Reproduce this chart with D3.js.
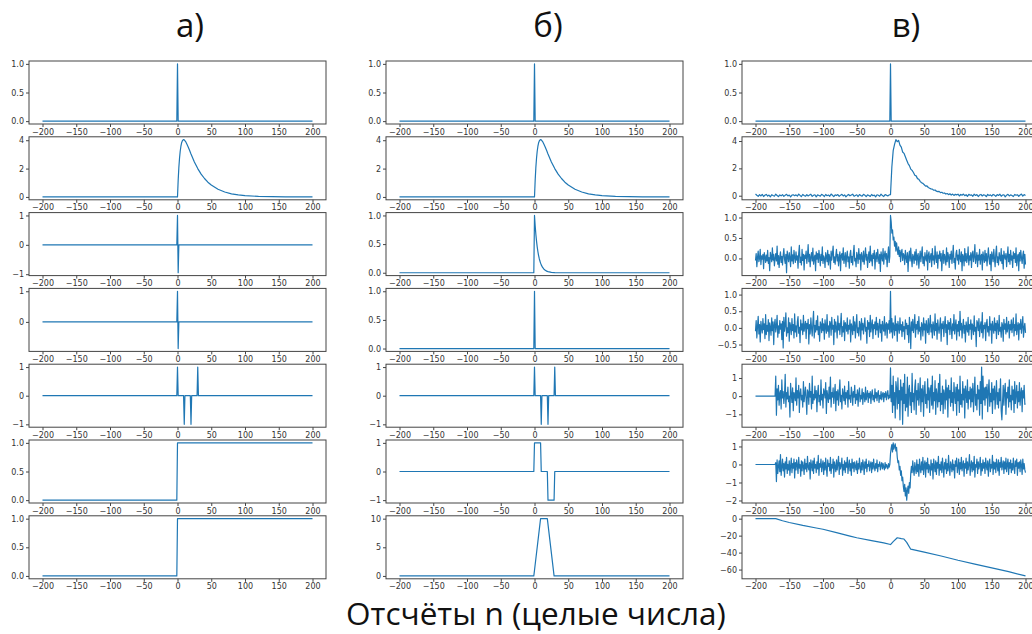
<!DOCTYPE html>
<html>
<head>
<meta charset="utf-8">
<script src="https://cdn.jsdelivr.net/npm/d3@7"></script>
<style>
  body { margin: 0; background: #fff; }
  .tick text { font-family: "DejaVu Sans", sans-serif; font-size: 8px; fill: #333; }
  .tick line { stroke: #444; }
  .ttl { font-family: "Open Sans", sans-serif; fill: #111; }
</style>
</head>
<body>
<div id="chart"></div>
<script>
// ---- data ----

// sample axis ticks
var xTicks = [-200, -150, -100, -50, 0, 50, 100, 150, 200];

// column titles and x label
var colTitles = ["а)", "б)", "в)"];
var xLabel = "Отсчёты n (целые числа)";

// y tick values for each kind of panel
var ticksUnit = [0, 0.5, 1];
var ticksPulse = [0, 2, 4];
var ticksPm1 = [-1, 0, 1];
var ticksPm1b = [0, 1];
var ticksTrap = [0, 5, 10];
var ticksN3 = [0, 0.5, 1];
var ticksN4 = [-0.5, 0, 0.5, 1];
var ticksN6 = [-2, -1, 0, 1];
var ticksCum = [-60, -40, -20, 0];

// [n, value] points of the clean signals
var impulse = [[-200, 0], [-1, 0], [0, 1], [1, 0], [200, 0]];
var pulse = [[-200, 0], [0, 0], [1, 1.18], [2, 2.07], [3, 2.73], [4, 3.22], [5, 3.56], [6, 3.80],
  [7, 3.94], [8, 4.02], [9, 4.04], [10, 4.03], [12, 3.91], [14, 3.72], [16, 3.50], [18, 3.27],
  [20, 3.03], [25, 2.47], [30, 2.00], [35, 1.61], [40, 1.30], [45, 1.04], [50, 0.84], [60, 0.54],
  [70, 0.35], [80, 0.22], [90, 0.14], [100, 0.09], [120, 0.04], [140, 0.02], [160, 0.01], [200, 0]];
var diffA = [[-200, 0], [-1, 0], [0, 1], [1, -0.95], [2, 0], [200, 0]];
var diffB = [[-200, 0], [-1, 0], [0, 1], [1, -0.87], [2, 0], [200, 0]];
var fourSpikes = [[-200, 0], [-1, 0], [0, 1], [1, 0], [9, 0], [10, -1], [11, 0], [19, 0], [20, -1],
  [21, 0], [29, 0], [30, 1], [31, 0], [200, 0]];
var step = [[-200, 0], [-1, 0], [0, 1], [200, 1]];
var decay = [[-200, 0], [-1, 0], [0, 1], [1, 0.82], [2, 0.672], [3, 0.551], [4, 0.452], [5, 0.371],
  [6, 0.304], [7, 0.249], [8, 0.204], [9, 0.168], [10, 0.137], [12, 0.092], [14, 0.062],
  [16, 0.042], [18, 0.028], [20, 0.019], [25, 0.007], [30, 0.003], [40, 0], [200, 0]];
var rectPair = [[-200, 0], [-1, 0], [0, 1], [9, 1], [10, 0], [19, 0], [20, -1], [29, -1], [30, 0], [200, 0]];
var trapezoid = [[-200, 0], [-1, 0], [0, 1], [9, 10], [19, 10], [29, 0], [200, 0]];
var cumNoise = [[-200, 0], [-170, 0], [-160, -2.5], [-150, -4.5], [-130, -8], [-110, -11],
  [-100, -12.5], [-80, -16.5], [-60, -20.5], [-50, -22.5], [-30, -25.5], [-10, -28.5], [0, -30.5],
  [4, -27], [10, -22.5], [16, -23.5], [20, -24], [24, -28], [30, -36], [50, -39.5], [75, -44],
  [100, -49], [125, -53.5], [150, -58], [175, -62.5], [200, -67.5]];

// noisy pulse, every second sample from n = -200
var noisyPulse = [
  0.12, 0.03, -0.05, 0.08, -0.02, 0.1, -0.06, 0.04, 0.09, -0.03,
  0.05, -0.08, 0.07, 0.01, -0.04, 0.11, 0.02, -0.07, 0.06, -0.01,
  0.08, -0.05, 0.03, 0.1, -0.02, 0.05, -0.09, 0.04, 0.07, 0.0,
  0.06, -0.03, 0.12, 0.02, -0.06, 0.09, 0.01, -0.04, 0.08, -0.02,
  0.05, 0.11, -0.05, 0.03, 0.07, -0.08, 0.06, 0.02, -0.03, 0.1,
  0.04, -0.06, 0.09, 0.0, 0.05, -0.04, 0.12, 0.03, -0.07, 0.06,
  0.01, 0.08, -0.05, 0.04, 0.1, -0.02, 0.06, -0.08, 0.03, 0.09,
  -0.01, 0.05, 0.11, -0.04, 0.02, 0.07, -0.06, 0.08, 0.01, -0.03,
  0.1, 0.04, -0.07, 0.06, 0.02, -0.05, 0.09, 0.0, 0.05, -0.08,
  0.07, 0.03, -0.04, 0.11, 0.01, -0.06, 0.08, 0.04, -0.02, 0.06,
  0.08, 2.1, 3.3, 3.75, 4.1, 3.95, 4.05, 3.7, 3.55, 3.2,
  3.1, 2.85, 2.6, 2.35, 2.2, 1.95, 1.85, 1.7, 1.5, 1.45,
  1.25, 1.2, 1.05, 0.95, 0.9, 0.8, 0.7, 0.72, 0.6, 0.55,
  0.5, 0.48, 0.4, 0.42, 0.33, 0.3, 0.32, 0.22, 0.25, 0.18,
  0.2, 0.12, 0.16, 0.08, 0.14, 0.05, 0.12, 0.02, 0.1, 0.06,
  0.11, -0.02, 0.09, 0.04, 0.12, 0.0, 0.07, -0.05, 0.1, 0.03,
  0.06, -0.04, 0.11, 0.02, 0.08, -0.06, 0.05, 0.09, -0.02, 0.07,
  0.03, -0.07, 0.1, 0.01, 0.06, -0.03, 0.09, 0.04, -0.05, 0.08,
  0.02, 0.11, -0.04, 0.05, 0.07, -0.08, 0.04, 0.1, -0.02, 0.06,
  0.01, -0.06, 0.09, 0.03, 0.07, -0.04, 0.05, 0.12, -0.03, 0.08,
  0.02];

// noisy decay, every sample from n = -200
var noisyDecay = [
  -0.05, 0.12, -0.2, 0.03, 0.18, -0.08, 0.0, 0.22, -0.15, 0.06, -0.02, 0.1, -0.25, 0.14, 0.04, -0.1, 0.08, -0.06, 0.2, -0.12,
  0.02, -0.3, 0.15, 0.05, -0.08, 0.26, -0.04, 0.1, -0.18, 0.0, 0.12, -0.06, 0.3, -0.14, 0.07, -0.22, 0.03, 0.16, -0.1, 0.05,
  -0.16, 0.08, 0.24, -0.02, -0.12, 0.1, -0.35, 0.18, 0.04, -0.08, 0.14, 0.0, -0.2, 0.28, -0.06, 0.09, -0.13, 0.2, 0.02, -0.1,
  0.16, -0.04, 0.06, -0.24, 0.12, 0.32, -0.1, 0.03, -0.16, 0.22, -0.05, 0.1, -0.28, 0.08, 0.0, 0.18, -0.12, 0.05, 0.34, -0.08,
  0.1, -0.2, 0.04, 0.14, -0.06, 0.25, -0.14, 0.02, 0.08, -0.3, 0.16, -0.02, 0.12, -0.1, 0.2, 0.04, -0.18, 0.1, -0.05, 0.28,
  -0.12, 0.06, 0.0, -0.22, 0.14, 0.05, -0.08, 0.2, -0.16, 0.1, 0.02, -0.26, 0.18, -0.04, 0.12, 0.3, -0.1, 0.04, -0.14, 0.08,
  0.22, -0.06, 0.1, -0.18, 0.02, 0.16, -0.3, 0.08, 0.12, -0.04, 0.26, -0.12, 0.0, 0.14, -0.2, 0.06, 0.18, -0.08, 0.04, -0.24,
  0.1, 0.2, -0.1, 0.05, -0.16, 0.12, 0.32, -0.06, 0.0, -0.2, 0.15, 0.06, -0.12, 0.24, -0.02, 0.1, -0.28, 0.14, 0.03, -0.08,
  0.18, -0.14, 0.06, 0.26, -0.04, 0.1, -0.22, 0.02, 0.16, -0.1, 0.3, -0.06, 0.08, -0.18, 0.12, 0.0, 0.2, -0.26, 0.05, 0.14,
  -0.08, 0.22, 0.02, -0.12, 0.1, -0.32, 0.16, 0.04, -0.06, 0.24, -0.14, 0.08, 0.18, -0.02, 0.12, -0.2, 0.06, 0.28, -0.1, 0.05,
  1.05, 0.9, 0.62, 0.7, 0.45, 0.52, 0.3, 0.42, 0.18, 0.38, 0.22, 0.1, 0.28, 0.05, 0.2, -0.08, 0.15, 0.22, -0.05, 0.12,
  0.08, -0.15, 0.2, 0.02, -0.1, 0.14, -0.32, 0.06, 0.18, -0.06, 0.25, 0.0, -0.2, 0.1, 0.04, -0.12, 0.16, -0.04, 0.22, -0.16,
  0.06, 0.12, -0.24, 0.02, 0.18, -0.08, 0.1, 0.28, -0.12, 0.04, -0.18, 0.14, 0.0, -0.06, 0.2, -0.28, 0.08, 0.16, -0.1, 0.03,
  0.12, -0.2, 0.24, -0.04, 0.06, -0.14, 0.3, 0.02, -0.1, 0.16, -0.24, 0.08, 0.0, 0.18, -0.06, 0.12, -0.3, 0.04, 0.2, -0.12,
  0.1, 0.02, -0.16, 0.26, -0.08, 0.14, 0.04, -0.22, 0.1, -0.02, 0.18, -0.12, 0.06, 0.32, -0.1, 0.0, -0.26, 0.12, 0.2, -0.04,
  0.08, -0.14, 0.22, 0.0, -0.08, 0.16, -0.3, 0.1, 0.04, -0.18, 0.24, -0.06, 0.12, -0.1, 0.02, 0.28, -0.16, 0.06, -0.04, 0.14,
  -0.22, 0.1, 0.18, -0.08, 0.04, 0.34, -0.12, 0.0, 0.14, -0.2, 0.08, -0.04, 0.22, -0.14, 0.06, 0.1, -0.28, 0.16, 0.02, -0.1,
  0.2, -0.06, 0.12, -0.18, 0.04, 0.26, -0.02, -0.14, 0.1, -0.3, 0.16, 0.06, -0.08, 0.22, 0.0, -0.2, 0.12, 0.3, -0.1, 0.04,
  -0.16, 0.14, 0.02, -0.06, 0.24, -0.12, 0.08, -0.26, 0.18, 0.04, -0.02, 0.12, -0.2, 0.06, 0.28, -0.08, 0.1, -0.14, 0.2, -0.04,
  0.06, -0.22, 0.16, 0.0, 0.12, -0.1, 0.26, -0.18, 0.04, 0.1, -0.3, 0.14, -0.06, 0.2, 0.02, -0.12, 0.08, 0.18, -0.24, 0.1,
  -0.15];

// noisy impulse, every sample from n = -200
var noisyImpulse = [
  -0.1, 0.22, -0.3, 0.05, 0.35, -0.18, 0.1, -0.42, 0.2, 0.0, -0.15, 0.28, -0.05, 0.12, -0.32, 0.4, -0.2, 0.08, -0.1, 0.25,
  -0.38, 0.15, 0.02, -0.22, 0.3, -0.08, 0.18, -0.5, 0.1, 0.26, -0.12, 0.04, 0.38, -0.28, 0.06, -0.16, 0.22, -0.04, 0.12, -0.35,
  0.2, -0.6, 0.32, -0.1, 0.08, 0.45, -0.25, 0.0, -0.14, 0.3, -0.4, 0.16, 0.05, -0.2, 0.28, -0.08, 0.1, -0.3, 0.42, -0.12,
  0.06, -0.26, 0.18, 0.34, -0.16, 0.02, -0.44, 0.24, -0.06, 0.12, -0.2, 0.38, -0.1, 0.04, 0.2, -0.32, 0.14, -0.02, 0.26, -0.48,
  0.1, -0.18, 0.3, 0.0, -0.24, 0.16, 0.5, -0.3, 0.08, -0.12, 0.22, -0.06, 0.36, -0.2, 0.04, -0.4, 0.18, 0.1, -0.14, 0.28,
  -0.08, 0.12, -0.34, 0.24, 0.02, -0.16, 0.4, -0.1, 0.06, -0.28, 0.2, 0.14, -0.22, 0.32, -0.04, 0.08, -0.5, 0.26, -0.12, 0.18,
  0.0, -0.3, 0.36, -0.06, 0.14, -0.2, 0.1, 0.44, -0.26, 0.04, -0.12, 0.22, -0.38, 0.16, 0.06, -0.1, 0.3, -0.18, 0.08, -0.04,
  0.24, -0.42, 0.12, 0.02, -0.2, 0.34, -0.08, 0.18, -0.3, 0.06, 0.4, -0.14, 0.0, -0.24, 0.2, 0.1, -0.36, 0.28, -0.06, 0.14,
  -0.18, 0.08, 0.3, -0.1, 0.02, -0.46, 0.22, -0.04, 0.16, -0.26, 0.38, -0.12, 0.06, 0.24, -0.32, 0.1, -0.02, 0.18, -0.2, 0.32,
  -0.06, 0.14, -0.28, 0.04, 0.26, -0.14, 0.1, -0.4, 0.2, 0.0, -0.1, 0.34, -0.22, 0.08, 0.16, -0.3, 0.12, -0.04, 0.22, -0.16,
  1.1, -0.12, 0.28, -0.3, 0.15, 0.05, -0.22, 0.36, -0.08, 0.12, -0.4, 0.2, 0.02, -0.16, 0.3, -0.06, 0.1, -0.26, 0.18, -0.1,
  0.04, -0.34, 0.24, -0.02, 0.14, -0.2, 0.08, -0.44, 0.32, 0.0, -0.62, 0.18, -0.08, 0.26, -0.14, 0.06, 0.4, -0.28, 0.1, -0.04,
  0.2, -0.18, 0.34, -0.1, 0.02, -0.36, 0.16, 0.08, -0.24, 0.3, -0.06, 0.12, -0.46, 0.22, 0.0, -0.14, 0.28, -0.2, 0.06, 0.38,
  -0.12, 0.1, -0.3, 0.18, 0.04, -0.22, 0.42, -0.08, 0.14, -0.34, 0.24, 0.0, -0.16, 0.08, 0.3, -0.4, 0.12, -0.02, 0.2, -0.26,
  0.06, 0.34, -0.14, 0.1, -0.5, 0.22, -0.04, 0.16, -0.2, 0.28, 0.02, -0.32, 0.12, -0.08, 0.4, -0.18, 0.06, 0.24, -0.36, 0.1,
  -0.1, 0.2, -0.24, 0.5, -0.06, 0.14, -0.3, 0.04, 0.26, -0.16, 0.08, -0.42, 0.18, 0.0, -0.12, 0.32, -0.22, 0.1, -0.04, 0.24,
  -0.34, 0.12, 0.06, -0.2, 0.36, -0.1, 0.02, -0.56, 0.22, 0.14, -0.08, 0.28, -0.26, 0.04, 0.18, -0.14, 0.46, -0.3, 0.08, -0.02,
  0.16, -0.38, 0.1, 0.26, -0.12, 0.04, -0.24, 0.34, -0.06, 0.12, -0.46, 0.2, 0.0, -0.16, 0.3, -0.08, 0.14, -0.32, 0.22, 0.06,
  -0.2, 0.38, -0.1, 0.02, -0.28, 0.16, 0.08, -0.4, 0.26, -0.04, 0.12, -0.18, 0.32, -0.12, 0.04, 0.2, -0.3, 0.1, -0.06, 0.24,
  -0.14, 0.06, 0.3, -0.24, 0.1, -0.08, 0.42, -0.2, 0.02, 0.16, -0.36, 0.12, -0.04, 0.26, -0.16, 0.08, 0.34, -0.28, 0.0, 0.14,
  -0.15];

// these two: every sample from n = -170, flat zero before
var noisySpikes = [
  1.1, -1.05, 0.4, -0.2, 0.6, -0.5, 0.15, 0.3, -0.7, 0.9, -0.1, 0.25, -0.4, 0.05, 1.2, -0.6, 0.2, -0.15, 0.5, -0.3,
  0.0, -1.15, 0.7, 0.1, -0.35, 0.45, -0.8, 0.2, 0.05, -0.25, 1.0, -0.5, 0.3, -0.1, 0.6, -0.9, 0.15, 0.4, -0.2, 0.05,
  -0.6, 0.8, -0.3, 0.1, 0.5, -0.15, -1.0, 0.35, 0.2, -0.45, 0.7, -0.05, 0.25, -0.7, 1.1, -0.4, 0.1, -0.2, 0.55, -0.1,
  0.3, -0.85, 0.15, 0.6, -0.3, 0.05, -0.5, 0.9, -0.2, 0.1, -0.65, 0.4, 0.2, -0.1, 0.75, -0.95, 0.3, 0.0, -0.35, 0.5,
  -0.15, 1.05, -0.6, 0.2, -0.05, 0.45, -0.4, 0.1, 0.65, -0.8, 0.25, -0.2, 0.35, -0.5, 0.15, 0.9, -0.3, 0.05, -0.7, 0.4,
  0.1, -0.25, 0.55, -0.45, 0.2, -0.1, 0.3, -0.6, 0.8, -0.15, 0.05, -0.35, 0.5, 0.15, -0.5, 0.25, -0.05, 0.6, -0.4, 0.1,
  -0.2, 0.35, -0.55, 0.15, 0.45, -0.3, 0.05, -0.15, 0.4, -0.45, 0.2, 0.1, -0.3, 0.5, -0.2, 0.05, 0.3, -0.35, 0.15, -0.1,
  0.25, -0.4, 0.1, 0.35, -0.2, 0.05, -0.3, 0.4, -0.1, 0.2, -0.25, 0.15, 0.3, -0.35, 0.05, -0.15, 0.25, -0.2, 0.1, 0.2,
  -0.3, 0.15, -0.05, 0.25, -0.2, 0.1, 0.3, -0.15, 0.05, -0.1,
  1.55, -0.3, 0.6, -0.9, 1.1, -0.5, 0.2, -1.2, 0.8, 0.4, -0.7, 1.0, -0.4, 0.3, -1.3, 0.9, -0.2, 0.5, -1.55, 0.7,
  -0.4, 1.2, -0.8, 0.1, -0.6, 1.05, -1.1, 0.35, 0.6, -0.5, 0.2, -0.9, 1.25, -0.3, 0.15, -0.75, 0.5, 0.9, -1.0, 0.3,
  -0.2, 0.7, -0.5, 0.05, 1.0, -0.85, 0.4, -0.3, 0.6, -1.1, 0.25, 0.8, -0.4, 0.1, -0.65, 0.95, -0.2, 0.45, -0.9, 0.3,
  0.6, -0.5, 1.1, -0.7, 0.2, -0.25, 0.85, -1.0, 0.4, 0.05, -0.6, 0.7, -0.3, 1.2, -0.8, 0.15, -0.45, 0.55, -0.95, 0.35,
  0.1, -0.7, 0.9, -0.2, 0.45, -1.15, 0.6, -0.1, 0.3, -0.55, 1.0, -0.35, 0.2, -0.8, 0.75, 0.05, -0.4, 0.5, -1.05, 0.65,
  -0.25, 0.35, -0.9, 1.1, -0.45, 0.1, -0.6, 0.8, -0.2, 0.4, -1.2, 0.55, 0.15, -0.35, 0.9, -0.7, 0.25, -0.15, 0.5, -0.6,
  0.4, -0.3, 0.7, -0.85, 0.2, 1.05, -0.5, 0.1, -0.75, 0.6, -0.15, 0.35, -1.05, 0.8, -0.4, 1.6, -1.25, 1.1, -0.2, 0.45,
  -0.5, 0.5, -0.1, 0.65, -0.85, 0.3, 0.9, -0.55, 0.15, -0.3, 0.75, -0.95, 0.4, -0.2, 0.55, -0.7, 0.1, 0.85, -0.45, 0.2,
  -0.65, 0.4, -0.25, 0.95, -0.8, -1.3, -0.35, 0.6, -0.5, 0.3, 0.7, -1.0, 0.2, -0.1, 0.5, -0.6, 0.9, -0.3, 0.05, -0.75,
  0.55, -0.2, 0.35, -0.9, 0.8, -0.4, 0.1, 0.6, -0.65, 0.25, -0.3, 0.75, -0.5, 0.15, 0.45, -0.85, 0.3, -0.1, 0.6, -0.45,
  -0.4];

var noisyRect = [
  0.1, -0.95, 0.25, -0.5, -0.1, 0.2, -0.4, 0.55, -0.6, -0.15, 0.3, -0.35, 0.05, -0.7, 0.15, -0.25, 0.4, -0.5, 0.0, -0.3,
  0.2, -0.6, -0.1, 0.35, -0.45, 0.05, -0.2, 0.3, -0.75, 0.1, -0.3, 0.25, -0.05, -0.5, 0.4, -0.2, 0.0, -0.65, 0.2, -0.35,
  0.15, -0.1, -0.55, 0.3, -0.25, 0.05, -0.4, 0.45, -0.15, -0.3, 0.1, -0.8, 0.25, -0.05, -0.35, 0.2, -0.5, 0.35, -0.2, 0.0,
  -0.45, 0.15, -0.25, 0.5, -0.6, 0.05, -0.15, 0.3, -0.4, -0.05, 0.2, -0.55, 0.1, -0.3, 0.35, -0.2, -0.65, 0.25, -0.1, 0.05,
  -0.35, 0.4, -0.5, 0.0, -0.2, 0.3, -0.7, 0.15, -0.1, -0.4, 0.25, -0.3, 0.05, 0.45, -0.55, 0.1, -0.25, -0.05, 0.35, -0.6,
  0.0, -0.3, 0.2, -0.45, 0.1, -0.15, 0.4, -0.5, -0.05, 0.25, -0.35, 0.05, -0.6, 0.3, -0.2, 0.1, -0.4, 0.15, -0.1, -0.3,
  0.2, -0.5, 0.05, -0.25, 0.35, -0.15, -0.45, 0.1, -0.3, 0.25, -0.05, -0.55, 0.15, -0.2, 0.3, -0.4, 0.0, -0.1, 0.2, -0.35,
  -0.05, 0.15, -0.45, 0.1, -0.25, 0.3, -0.15, -0.35, 0.05, -0.2, 0.25, -0.4, 0.0, -0.1, 0.15, -0.3, -0.05, 0.1, -0.25, 0.05,
  -0.15, -0.3, 0.1, -0.2, 0.0, -0.1, -0.25, 0.05, -0.15, 0.0,
  0.6, 0.9, 1.1, 0.7, 1.2, 0.85, 1.0, 1.15, 0.75, 0.95, 0.4, 0.1, 0.2, -0.3, -0.1, -0.6, -0.35, -0.9, -0.7, -1.2,
  -1.5, -1.1, -1.75, -1.3, -1.98, -1.45, -1.2, -1.6, -1.0, -1.3, -0.5, -0.1, -0.45, 0.2, -0.3, -0.6, 0.1, -0.2, -0.5, 0.25,
  -0.4, 0.0, -0.65, 0.3, -0.2, -0.45, 0.15, -0.3, 0.4, -0.55, -0.05, 0.2, -0.7, 0.1, -0.25, 0.35, -0.45, 0.0, -0.15, -0.6,
  0.25, -0.3, 0.05, -0.8, 0.3, -0.1, -0.4, 0.2, -0.55, 0.1, -0.2, 0.45, -0.6, 0.0, -0.3, 0.15, -0.45, 0.35, -0.15, -0.7,
  0.1, -0.25, 0.3, -0.5, 0.05, -0.35, 0.5, -0.2, -0.6, 0.15, -0.05, -0.4, 0.25, -0.3, 0.0, -0.75, 0.2, -0.1, 0.35, -0.45,
  -0.15, 0.3, -0.55, 0.1, -0.25, 0.4, -0.35, -0.05, 0.2, -0.65, 0.05, -0.2, 0.35, -0.5, 0.15, -0.3, 0.0, 0.55, -0.6, -0.1,
  0.2, -0.4, 0.1, -0.3, 0.45, -0.7, 0.0, -0.15, 0.3, -0.5, 0.15, -0.25, -0.05, 0.4, -0.6, 0.05, -0.35, 0.25, -0.2, 0.1,
  -0.5, 0.35, -0.1, -0.3, 0.2, -0.65, 0.05, 0.3, -0.4, 0.0, -0.2, 0.5, -0.55, 0.15, -0.25, 0.1, -0.45, 0.3, -0.05, -0.35,
  0.25, -0.6, 0.1, -0.15, 0.4, -0.3, -0.05, 0.2, -0.5, 0.15, -0.25, 0.35, -0.4, 0.0, 0.3, -0.55, 0.1, -0.2, 0.25, -0.45,
  0.05, -0.3, 0.35, -0.15, -0.5, 0.2, -0.1, 0.3, -0.6, 0.1, -0.2, 0.15, -0.4, 0.25, -0.05, -0.55, 0.3, -0.25, 0.05, -0.3,
  -0.45];

// ---- layout ----
var width = 1032, height = 634;
var colX = [29, 386, 742];
var axW = 297, axH = 63;
var rowTop = 61, rowStep = 75.8;
var lineColor = "#1f77b4";

// sample index -> [n, value]; optional flat zero lead-in from n = -200
function toPoints(start, every, vals, lead) {
  var pts = vals.map(function (v, i) { return [start + every * i, v]; });
  return lead ? [[-200, 0], [start - 1, 0]].concat(pts) : pts;
}

var columns = [
  [
    { data: impulse, yt: ticksUnit, f: ".1f" },
    { data: pulse, yt: ticksPulse, f: "d" },
    { data: diffA, yt: ticksPm1, f: "d" },
    { data: diffB, yt: ticksPm1b, f: "d" },
    { data: fourSpikes, yt: ticksPm1, f: "d" },
    { data: step, yt: ticksUnit, f: ".1f" },
    { data: step, yt: ticksUnit, f: ".1f" }
  ],
  [
    { data: impulse, yt: ticksUnit, f: ".1f" },
    { data: pulse, yt: ticksPulse, f: "d" },
    { data: decay, yt: ticksUnit, f: ".1f" },
    { data: impulse, yt: ticksUnit, f: ".1f" },
    { data: fourSpikes, yt: ticksPm1, f: "d" },
    { data: rectPair, yt: ticksPm1, f: "d" },
    { data: trapezoid, yt: ticksTrap, f: "d" }
  ],
  [
    { data: impulse, yt: ticksUnit, f: ".1f" },
    { data: toPoints(-200, 2, noisyPulse), yt: ticksPulse, f: "d" },
    { data: toPoints(-200, 1, noisyDecay), yt: ticksN3, f: ".1f" },
    { data: toPoints(-200, 1, noisyImpulse), yt: ticksN4, f: ".1f" },
    { data: toPoints(-170, 1, noisySpikes, true), yt: ticksPm1, f: "d" },
    { data: toPoints(-170, 1, noisyRect, true), yt: ticksN6, f: "d" },
    { data: cumNoise, yt: ticksCum, f: "d" }
  ]
];

var svg = d3.select("#chart")
  .append("svg")
  .attr("width", width)
  .attr("height", height);

function drawPanel(p, col, row) {
  var x0 = colX[col];
  var y0 = rowTop + row * rowStep;
  var ext = d3.extent(p.data, function (d) { return d[1]; });
  var pad = (ext[1] - ext[0]) * 0.05;

  var xScale = d3.scaleLinear().domain([-220, 220]).range([x0, x0 + axW]);
  var yScale = d3.scaleLinear().domain([ext[0] - pad, ext[1] + pad]).range([y0 + axH, y0]);

  var g = svg.append("g");

  g.append("path")
    .datum(p.data)
    .attr("fill", "none")
    .attr("stroke", lineColor)
    .attr("stroke-width", 1.2)
    .attr("stroke-linejoin", "round")
    .attr("d", d3.line()
      .x(function (d) { return xScale(d[0]); })
      .y(function (d) { return yScale(d[1]); }));

  g.append("g")
    .attr("transform", "translate(0," + (y0 + axH) + ")")
    .call(d3.axisBottom(xScale).tickValues(xTicks).tickFormat(d3.format("d"))
      .tickSize(3).tickPadding(2))
    .call(function (a) { a.select(".domain").remove(); });

  g.append("g")
    .attr("transform", "translate(" + x0 + ",0)")
    .call(d3.axisLeft(yScale).tickValues(p.yt).tickFormat(d3.format(p.f))
      .tickSize(3).tickPadding(2))
    .call(function (a) { a.select(".domain").remove(); });

  // frame
  g.append("rect")
    .attr("x", x0).attr("y", y0)
    .attr("width", axW).attr("height", axH)
    .attr("fill", "none")
    .attr("stroke", "#444")
    .attr("stroke-width", 1);
}

columns.forEach(function (panels, c) {
  panels.forEach(function (p, r) { drawPanel(p, c, r); });
});

// column titles
var titleX = [190, 548, 906];
svg.selectAll("text.colTitle")
  .data(colTitles)
  .enter()
  .append("text")
  .attr("class", "ttl colTitle")
  .attr("x", function (d, i) { return titleX[i]; })
  .attr("y", 37)
  .attr("text-anchor", "middle")
  .attr("font-size", 33)
  .text(function (d) { return d; });

// shared x label
svg.append("text")
  .attr("class", "ttl")
  .attr("x", 536)
  .attr("y", 625)
  .attr("text-anchor", "middle")
  .attr("font-size", 31.5)
  .text(xLabel);
</script>
</body>
</html>
